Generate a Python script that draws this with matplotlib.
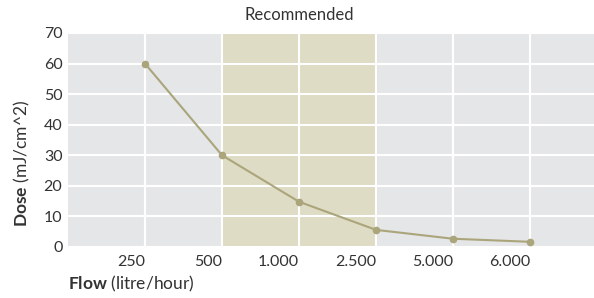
import numpy as np
import matplotlib.pyplot as plt

# flow categories and dose values
flow_labels = ['250', '500', '1.000', '2.500', '5.000', '6.000']
dose = [60, 30, 14.8, 5.6, 2.7, 1.7]
recommended = (2, 4)  # band from 500 to 2.500 (category positions)

plt.rcParams['font.family'] = 'Lato'
plt.rcParams['mathtext.fontset'] = 'custom'
plt.rcParams['mathtext.rm'] = 'Lato'
plt.rcParams['mathtext.bf'] = 'Lato:bold'

text_col = '#333333'
W, H = 594, 298
fig = plt.figure(figsize=(W / 100, H / 100), dpi=100)
ax = fig.add_axes([68 / W, 1 - 247 / H, (594 - 68) / W, (247 - 33) / H])

x = np.arange(1, len(dose) + 1)
ax.set_facecolor('#e5e6e8')
ax.axvspan(*recommended, color='#dfdcc5', zorder=0.5)
ax.plot(x, dose, color='#aaa57b', lw=1.5, marker='o', ms=4.5, zorder=3)

ax.set_xlim(0, 6.83)
ax.set_ylim(0, 70)
ax.set_yticks(np.arange(0, 71, 10))
ax.set_xticks(x)
ax.set_xticklabels(flow_labels, ha='right')
ax.grid(True, color='white', lw=1.5, zorder=1)
ax.set_axisbelow(True)
for s in ax.spines.values():
    s.set_visible(False)
ax.tick_params(length=0, labelsize=11.5, labelcolor=text_col)
ax.tick_params(axis='x', pad=6)
ax.tick_params(axis='y', pad=4)

fig.text(299 / W, 1 - 15 / H, 'Recommended', ha='center', va='center',
         fontsize=12, color=text_col)

fig.text(22 / W, 1 - 163 / H, r'$\bf{Dose}$ (mJ/cm^2)', rotation=90,
         ha='center', va='center', fontsize=12.5, color=text_col)
fig.text(68 / W, 1 - 284 / H, r'$\bf{Flow}$ (litre/hour)',
         ha='left', va='center', fontsize=12.5, color=text_col)

fig.savefig('out.png', dpi=100)
